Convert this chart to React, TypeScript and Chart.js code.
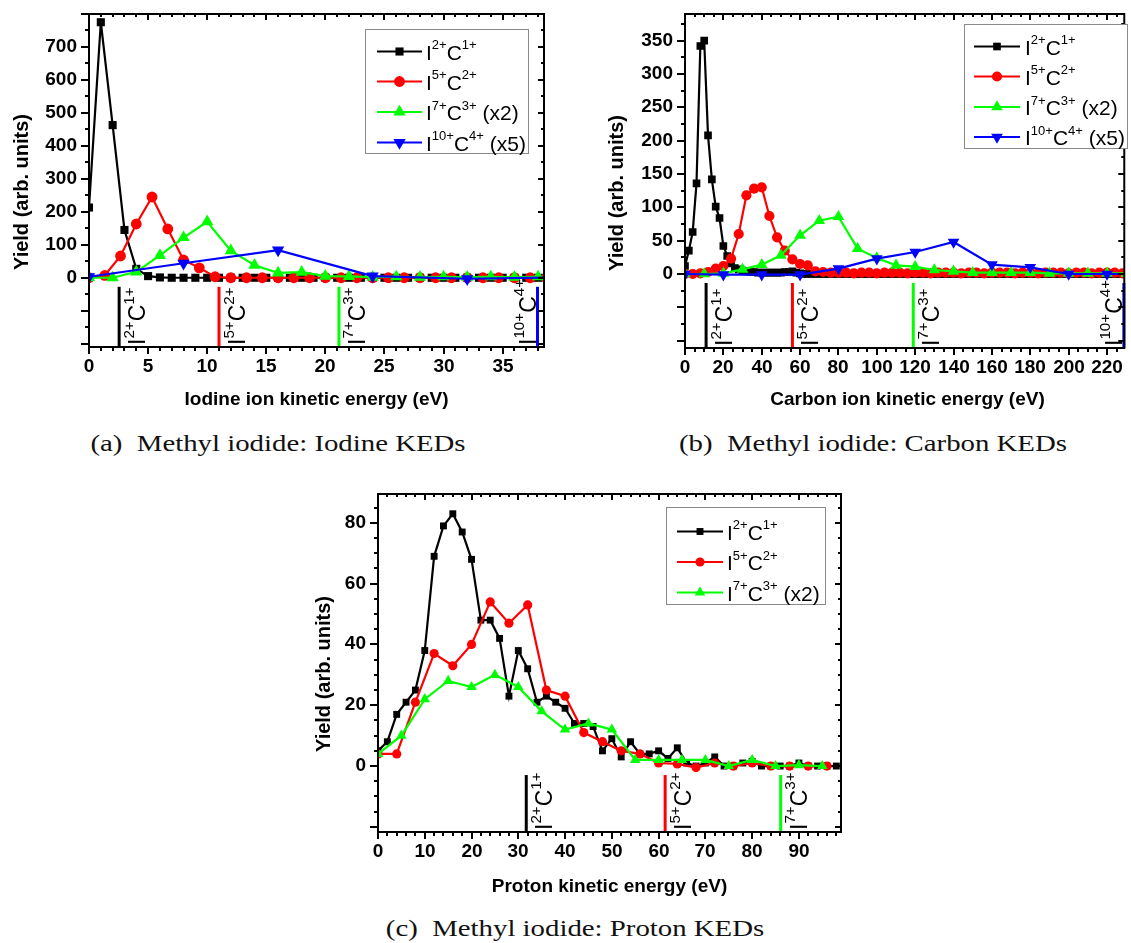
import React, { useEffect, useRef } from 'react';
import { Chart, registerables } from 'chart.js';

Chart.register(...registerables);

const SANS = '"Liberation Sans", Arial, sans-serif';
const SERIF = '"Liberation Serif", "Times New Roman", serif';

// ---------------- data: panel (a) iodine KEDs ----------------
const A_BLACK_STEP = 1;
const A_BLACK_Y = [
  213, 775, 463, 145, 27, 5, 1, 0, 0, 0,
  0, 0, 0, 0, 0, 0, 0, 0, 0, 0,
  0, 0, 0, 0, 0, 0, 0, 0, 0, 0,
  0, 0, 0, 0, 0, 0, 0, 0, 0,
];
const A_RED_STEP = 4 / 3;
const A_RED_Y = [
  0, 7, 66, 163, 245, 148, 54, 30, 3, 0,
  0, 0, 0, 0, 0, 0, 0, 0, 0, 0,
  0, 0, 0, 0, 0, 0, 0, 0, 0, 0,
];
const A_GREEN_STEP = 2;
const A_GREEN_Y = [0, 0, 18, 68, 122, 170, 82, 38, 15, 17, 5, 4, 2, 3, 2, 3, 2, 3, 2, 3];
const A_BLUE_STEP = 8;
const A_BLUE_Y = [3, 44, 84, 5, -3, 1];
const A_MARKERS = [2.55, 11.0, 21.15, 37.95];

// ---------------- data: panel (b) carbon KEDs ----------------
const B_BLACK_STEP = 2;
const B_BLACK_Y = [
  12, 35, 63, 136, 342, 350, 208, 142, 101, 84,
  42, 27, 16, 9, 7, 5, 4, 3, 3, 2,
  2, 2, 2, 2, 2, 2, 3, 3, 4, 2,
  1, 0, 0, 0, 0, 0, 0, 0, 0, 0,
  0, 0, 0, 0, 0, 0, 0, 0, 0, 0,
  0, 0, 0, 0, 0, 0, 0, 0, 0, 0,
  0, 0, 0, 0, 0, 0, 0, 0, 0, 0,
  0, 0, 0, 0, 0, 0, 0, 0, 0, 0,
  0, 0, 0, 0, 0, 0, 0, 0, 0, 0,
  0, 0, 0, 0, 0, 0, 0, 0, 0, 0,
  0, 0, 0, 0, 0, 0, 0, 0, 0, 0,
  0, 0, 0, 0, 0, 0,
];
const B_RED_STEP = 4;
const B_RED_Y = [
  0, 0, 1, 3, 8, 12, 23, 60, 118, 128,
  130, 87, 55, 35, 22, 15, 13, 4, 3, 2,
  2, 2, 1, 2, 2, 1, 2, 2, 2, 1,
  2, 2, 1, 2, 2, 2, 1, 2, 2, 1,
  2, 2, 2, 1, 2, 2, 1, 2, 2, 2,
  1, 2, 2, 1, 2, 2, 2, 1,
];
const B_GREEN_STEP = 10;
const B_GREEN_Y = [0, 0, 1, 7, 14, 28, 58, 80, 86, 38, 24, 13, 11, 6, 4, 2, 2, 2, 2, 1, 1, 1, 1, 1];
const B_BLUE_STEP = 20;
const B_BLUE_Y = [0, -1, -1, -1, 8, 23, 33, 48, 14, 10, 0, 0, 0];
const B_MARKERS = [11, 56, 119, 228.8];

// ---------------- data: panel (c) proton KEDs ----------------
const C_BLACK_STEP = 2;
const C_BLACK_Y = [
  5, 8, 17, 21, 25, 38, 69, 79, 83, 77,
  68, 48, 48, 42, 23, 38, 32, 21, 23, 21,
  19, 14, 14, 13, 5, 9, 3, 8, 4, 4,
  5, 2.5, 6, 1, 0, 1, 3, 0, 0, 1,
  1.5, 0, 0, 0, 0, 1, 0, 0, 0, 0,
];
const C_RED_STEP = 4;
const C_RED_Y = [4, 4, 21, 37, 33, 40, 54, 47, 53, 25, 23, 11, 8, 5, 4, 1, 0.7, -0.5, 1, 0, 1, 0, 0, 0, 0];
const C_GREEN_STEP = 5;
const C_GREEN_Y = [4, 10, 22, 28, 26, 30, 26, 18, 12, 14, 12, 2, 2, 2, 2, 0, 2, 0, 0.3, 0];
const C_MARKERS = [31.7, 61.4, 86.1];

// ---------------- labels ----------------
type Seg = [string, number];
const L21: Seg[] = [['I', 0], ['2+', 1], ['C', 0], ['1+', 1]];
const L52: Seg[] = [['I', 0], ['5+', 1], ['C', 0], ['2+', 1]];
const L73: Seg[] = [['I', 0], ['7+', 1], ['C', 0], ['3+', 1]];
const L104: Seg[] = [['I', 0], ['10+', 1], ['C', 0], ['4+', 1]];
const X2: Seg = [' (x2)', 0];
const X5: Seg = [' (x5)', 0];

const BLACK = '#000000';
const RED = '#ff0000';
const GREEN = '#00ff00';
const BLUE = '#0000ff';

type Style = 'rect' | 'circle' | 'triangle' | 'invtri';
interface Series { segs: Seg[]; color: string; style: Style; step: number; ys: number[]; order: number; }
interface Marker { x: number; color: string; segs: Seg[]; side: 'right' | 'left'; }
interface Panel {
  box: { left: number; top: number; width: number; height: number };
  area: { l: number; t: number; r: number; b: number };
  xr: [number, number]; yr: [number, number];
  xMajor: number; xMinor: number; yMajor: number; yMinor: number; yLabelMax: number;
  series: Series[]; markers: Marker[];
  legend: { l: number; t: number; r: number; b: number; rows: number[]; lx1: number; lx2: number; tx: number };
  xTitle: { text: string; cx: number; cy: number };
  yTitle: { text: string; cx: number; cy: number };
  ms: number;
}

const seriesSet = (steps: number[], ys: number[][], green: Seg[], blue?: Seg[]): Series[] => {
  const out: Series[] = [
    { segs: L21, color: BLACK, style: 'rect', step: steps[0], ys: ys[0], order: 4 },
    { segs: L52, color: RED, style: 'circle', step: steps[1], ys: ys[1], order: 3 },
    { segs: green, color: GREEN, style: 'triangle', step: steps[2], ys: ys[2], order: 2 },
  ];
  if (blue) out.push({ segs: blue, color: BLUE, style: 'invtri', step: steps[3], ys: ys[3], order: 1 });
  return out;
};

const PANEL_A: Panel = {
  box: { left: 0, top: 0, width: 575, height: 425 },
  area: { l: 89, t: 14, r: 544, b: 347 },
  xr: [0, 38.5], yr: [-210, 800],
  xMajor: 5, xMinor: 1, yMajor: 100, yMinor: 50, yLabelMax: 700,
  series: seriesSet([A_BLACK_STEP, A_RED_STEP, A_GREEN_STEP, A_BLUE_STEP], [A_BLACK_Y, A_RED_Y, A_GREEN_Y, A_BLUE_Y], [...L73, X2], [...L104, X5]),
  markers: [
    { x: A_MARKERS[0], color: BLACK, segs: L21, side: 'right' },
    { x: A_MARKERS[1], color: RED, segs: L52, side: 'right' },
    { x: A_MARKERS[2], color: GREEN, segs: L73, side: 'right' },
    { x: A_MARKERS[3], color: BLUE, segs: L104, side: 'left' },
  ],
  legend: { l: 365, t: 29, r: 528, b: 153, rows: [51.5, 81.5, 112, 142.5], lx1: 377, lx2: 422, tx: 426 },
  xTitle: { text: 'Iodine ion kinetic energy (eV)', cx: 316.5, cy: 400 },
  yTitle: { text: 'Yield (arb. units)', cx: 22, cy: 192 },
  ms: 1.08,
};

const PANEL_B: Panel = {
  box: { left: 575, top: 0, width: 556, height: 425 },
  area: { l: 685, t: 14, r: 1130, b: 348 },
  xr: [0, 229], yr: [-111, 390],
  xMajor: 20, xMinor: 5, yMajor: 50, yMinor: 25, yLabelMax: 350,
  series: seriesSet([B_BLACK_STEP, B_RED_STEP, B_GREEN_STEP, B_BLUE_STEP], [B_BLACK_Y, B_RED_Y, B_GREEN_Y, B_BLUE_Y], [...L73, X2], [...L104, X5]),
  markers: [
    { x: B_MARKERS[0], color: BLACK, segs: L21, side: 'right' },
    { x: B_MARKERS[1], color: RED, segs: L52, side: 'right' },
    { x: B_MARKERS[2], color: GREEN, segs: L73, side: 'right' },
    { x: B_MARKERS[3], color: BLUE, segs: L104, side: 'left' },
  ],
  legend: { l: 964, t: 24, r: 1127, b: 148, rows: [46.5, 76.5, 107, 137], lx1: 974, lx2: 1020, tx: 1025 },
  xTitle: { text: 'Carbon ion kinetic energy (eV)', cx: 907.5, cy: 400 },
  yTitle: { text: 'Yield (arb. units)', cx: 617, cy: 193 },
  ms: 1.02,
};

const PANEL_C: Panel = {
  box: { left: 290, top: 470, width: 580, height: 440 },
  area: { l: 378, t: 494, r: 841, b: 832 },
  xr: [0, 99], yr: [-21.7, 89.5],
  xMajor: 10, xMinor: 2, yMajor: 20, yMinor: 5, yLabelMax: 80,
  series: seriesSet([C_BLACK_STEP, C_RED_STEP, C_GREEN_STEP], [C_BLACK_Y, C_RED_Y, C_GREEN_Y], [...L73, X2]),
  markers: [
    { x: C_MARKERS[0], color: BLACK, segs: L21, side: 'right' },
    { x: C_MARKERS[1], color: RED, segs: L52, side: 'right' },
    { x: C_MARKERS[2], color: GREEN, segs: L73, side: 'right' },
  ],
  legend: { l: 666, t: 507, r: 825, b: 604, rows: [531.5, 562, 592.5], lx1: 677, lx2: 723, tx: 727 },
  xTitle: { text: 'Proton kinetic energy (eV)', cx: 609.5, cy: 886.5 },
  yTitle: { text: 'Yield (arb. units)', cx: 324, cy: 674 },
  ms: 0.92,
};

const PANELS = [PANEL_A, PANEL_B, PANEL_C];

const CAPTIONS = [
  { text: '(a)  Methyl iodide: Iodine KEDs', cx: 278, cy: 443 },
  { text: '(b)  Methyl iodide: Carbon KEDs', cx: 873, cy: 443 },
  { text: '(c)  Methyl iodide: Proton KEDs', cx: 575, cy: 928 },
];

// ---------------- drawing helpers ----------------
const radiusFor = (style: Style, ms: number) =>
  (style === 'rect' ? 5.3 : style === 'circle' ? 5 : 6.6) * ms;

function drawRich(ctx: CanvasRenderingContext2D, x: number, y: number, segs: Seg[], size: number, supScale = 0.66) {
  let cx = x;
  for (const [t, sup] of segs) {
    const fs = sup ? size * supScale : size;
    ctx.font = `${fs}px ${SANS}`;
    ctx.fillText(t, cx, sup ? y - size * 0.5 : y);
    cx += ctx.measureText(t).width;
  }
}

function drawMarker(ctx: CanvasRenderingContext2D, style: Style, x: number, y: number, r: number, color: string) {
  ctx.fillStyle = color;
  ctx.beginPath();
  if (style === 'rect') {
    const s = r * Math.SQRT1_2;
    ctx.rect(x - s, y - s, 2 * s, 2 * s);
  } else if (style === 'circle') {
    ctx.arc(x, y, r, 0, Math.PI * 2);
  } else {
    const d = style === 'triangle' ? 1 : -1;
    ctx.moveTo(x, y - d * r);
    ctx.lineTo(x + r * 0.866, y + (d * r) / 2);
    ctx.lineTo(x - r * 0.866, y + (d * r) / 2);
    ctx.closePath();
  }
  ctx.fill();
}

function line(ctx: CanvasRenderingContext2D, x1: number, y1: number, x2: number, y2: number) {
  ctx.beginPath();
  ctx.moveTo(x1, y1);
  ctx.lineTo(x2, y2);
  ctx.stroke();
}

function decorPlugin(p: Panel) {
  return {
    id: 'decor',
    afterDraw(chart: any) {
      const ctx: CanvasRenderingContext2D = chart.ctx;
      const ox = p.box.left;
      const oy = p.box.top;
      const { left: L, right: R, top: T, bottom: B } = chart.chartArea;
      const xs = chart.scales.x;
      const ys = chart.scales.y;
      ctx.save();

      // energy markers below zero
      const y0 = ys.getPixelForValue(0);
      for (const m of p.markers) {
        const px = xs.getPixelForValue(m.x);
        ctx.strokeStyle = m.color;
        ctx.lineWidth = 3;
        line(ctx, px, y0 + 9, px, B);
        ctx.save();
        const bx = m.side === 'right' ? px + 26 : px - 2;
        ctx.translate(bx, B - 2);
        ctx.rotate(-Math.PI / 2);
        ctx.fillStyle = '#000';
        ctx.textAlign = 'left';
        ctx.textBaseline = 'alphabetic';
        drawRich(ctx, 0, 0, m.segs, 23);
        ctx.restore();
      }

      // frame
      ctx.strokeStyle = '#000';
      ctx.lineWidth = 2;
      ctx.strokeRect(L, T, R - L, B - T);

      // ticks and labels
      ctx.fillStyle = '#000';
      ctx.font = `bold 19px ${SANS}`;
      const xi0 = Math.ceil(p.xr[0] / p.xMinor - 1e-9);
      const xi1 = Math.floor(p.xr[1] / p.xMinor + 1e-9);
      for (let i = xi0; i <= xi1; i++) {
        const v = i * p.xMinor;
        const major = Math.abs(v / p.xMajor - Math.round(v / p.xMajor)) < 1e-6;
        const px = Math.round(xs.getPixelForValue(v));
        ctx.lineWidth = 2;
        line(ctx, px, B, px, B + (major ? 7 : 4));
        line(ctx, px, T, px, T + (major ? 6 : 3));
        if (major) {
          ctx.textAlign = 'center';
          ctx.textBaseline = 'middle';
          ctx.fillText(String(Math.round(v)), px, B + 20);
        }
      }
      const yi0 = Math.ceil(p.yr[0] / p.yMinor - 1e-9);
      const yi1 = Math.floor(p.yr[1] / p.yMinor + 1e-9);
      for (let i = yi0; i <= yi1; i++) {
        const v = i * p.yMinor;
        const major = Math.abs(v / p.yMajor - Math.round(v / p.yMajor)) < 1e-6;
        const py = Math.round(ys.getPixelForValue(v));
        ctx.lineWidth = 2;
        line(ctx, L, py, L - (major ? 8 : 4), py);
        line(ctx, R, py, R - (major ? 6 : 3), py);
        if (major && v >= 0 && v <= p.yLabelMax) {
          ctx.textAlign = 'right';
          ctx.textBaseline = 'middle';
          ctx.fillText(String(Math.round(v)), L - 12, py);
        }
      }

      // axis titles
      ctx.font = `bold 19px ${SANS}`;
      ctx.textAlign = 'center';
      ctx.textBaseline = 'middle';
      ctx.fillText(p.xTitle.text, p.xTitle.cx - ox, p.xTitle.cy - oy);
      ctx.save();
      ctx.translate(p.yTitle.cx - ox, p.yTitle.cy - oy);
      ctx.rotate(-Math.PI / 2);
      ctx.font = `bold 20px ${SANS}`;
      ctx.fillText(p.yTitle.text, 0, 0);
      ctx.restore();

      // legend
      const lg = p.legend;
      ctx.fillStyle = '#fff';
      ctx.fillRect(lg.l - ox, lg.t - oy, lg.r - lg.l, lg.b - lg.t);
      ctx.strokeStyle = '#8a8a8a';
      ctx.lineWidth = 1;
      ctx.strokeRect(lg.l - ox + 0.5, lg.t - oy + 0.5, lg.r - lg.l, lg.b - lg.t);
      p.series.forEach((s, i) => {
        const ry = lg.rows[i] - oy;
        ctx.strokeStyle = s.color;
        ctx.lineWidth = 2;
        line(ctx, lg.lx1 - ox, ry, lg.lx2 - ox, ry);
        drawMarker(ctx, s.style, (lg.lx1 + lg.lx2) / 2 - ox, ry, radiusFor(s.style, p.ms), s.color);
        ctx.fillStyle = '#000';
        ctx.textAlign = 'left';
        ctx.textBaseline = 'alphabetic';
        drawRich(ctx, lg.tx - ox, ry + 8, s.segs, 21, 0.62);
      });

      ctx.restore();
    },
  };
}

function PanelChart({ p }: { p: Panel }) {
  const ref = useRef<HTMLCanvasElement>(null);
  useEffect(() => {
    const cv = ref.current;
    if (!cv) return;
    const { left, top, width, height } = p.box;
    const chart = new Chart(cv, {
      type: 'line',
      data: {
        datasets: p.series.map((s) => {
          const r = radiusFor(s.style, p.ms);
          return {
            data: s.ys.map((y, i) => ({ x: i * s.step, y })),
            borderColor: s.color,
            backgroundColor: s.color,
            pointBackgroundColor: s.color,
            pointBorderColor: s.color,
            borderWidth: 2.2,
            pointBorderWidth: 0,
            pointRadius: r,
            pointHoverRadius: r,
            pointStyle: s.style === 'invtri' ? 'triangle' : s.style,
            pointRotation: s.style === 'invtri' ? 180 : 0,
            order: s.order,
            tension: 0,
            fill: false,
          };
        }),
      },
      options: {
        animation: false,
        responsive: false,
        maintainAspectRatio: false,
        events: [],
        layout: {
          padding: {
            left: p.area.l - left,
            top: p.area.t - top,
            right: left + width - p.area.r,
            bottom: top + height - p.area.b,
          },
        },
        plugins: { legend: { display: false }, tooltip: { enabled: false } },
        scales: {
          x: { type: 'linear', min: p.xr[0], max: p.xr[1], display: false },
          y: { type: 'linear', min: p.yr[0], max: p.yr[1], display: false },
        },
      },
      plugins: [decorPlugin(p)],
    } as any);
    return () => chart.destroy();
  }, [p]);
  const { left, top, width, height } = p.box;
  return (
    <canvas
      ref={ref}
      width={width}
      height={height}
      style={{ position: 'absolute', left, top, width, height }}
    />
  );
}

export default function App() {
  return (
    <div style={{ position: 'absolute', left: 0, top: 0, width: 1131, height: 943, background: '#fff', overflow: 'hidden' }}>
      {PANELS.map((p, i) => (
        <PanelChart key={i} p={p} />
      ))}
      {CAPTIONS.map((c, i) => (
        <div
          key={'c' + i}
          style={{
            position: 'absolute',
            left: c.cx,
            top: c.cy,
            transform: 'translate(-50%, -50%) scaleX(1.2)',
            fontFamily: SERIF,
            fontSize: 24,
            whiteSpace: 'pre',
            color: '#111',
            lineHeight: 1,
          }}
        >
          {c.text}
        </div>
      ))}
    </div>
  );
}
